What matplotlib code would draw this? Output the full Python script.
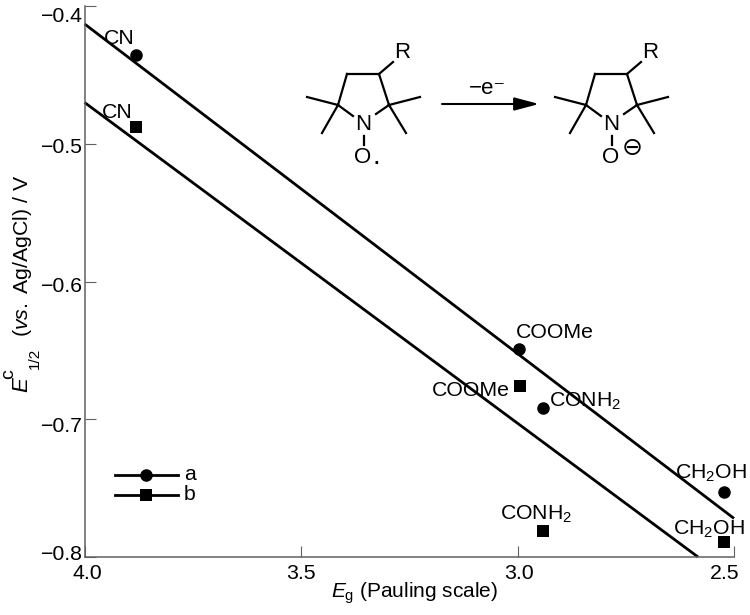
import matplotlib
matplotlib.use("Agg")
import matplotlib.pyplot as plt
from matplotlib.lines import Line2D
from matplotlib.patches import FancyArrowPatch
from matplotlib.transforms import ScaledTranslation

plt.rcParams['font.family'] = ['Liberation Sans', 'DejaVu Sans']
plt.rcParams['mathtext.fontset'] = 'custom'
plt.rcParams['mathtext.rm'] = 'Liberation Sans'
plt.rcParams['mathtext.it'] = 'Liberation Sans:italic'
plt.rcParams['mathtext.default'] = 'regular'

# data
eg_a = [3.882, 2.997, 2.942, 2.523]
e_a = [-0.4356, -0.649, -0.692, -0.753]
eg_b = [3.880, 2.995, 2.942, 2.523]
e_b = [-0.488, -0.676, -0.781, -0.789]
line_a_x = [4.0, 2.5]
line_a_y = [-0.413, -0.772]
line_b_x = [4.0, 2.583]
line_b_y = [-0.47, -0.80]
labels_a = ["CN", "COOMe", "CONH$_2$", "CH$_2$OH"]
labels_b = ["CN", "COOMe", "CONH$_2$", "CH$_2$OH"]
xticks = [4.0, 3.5, 3.0, 2.5]
yticks = [-0.8, -0.7, -0.6, -0.5, -0.4]

W, H = 750, 615
FS = 15.3
fig = plt.figure(figsize=(W/100, H/100), dpi=100)
L, R, T, B = 84.5, 734, 6, 557
ax = fig.add_axes([L/W, 1-B/H, (R-L)/W, (B-T)/H])
ax.set_xlim(4.0, 2.5)
ax.set_ylim(-0.8, -0.4)

ax.plot(line_a_x, line_a_y, color='k', lw=2.0, solid_capstyle='butt', clip_on=False)
ax.plot(line_b_x, line_b_y, color='k', lw=2.0, solid_capstyle='butt', clip_on=False)
ax.plot(eg_a, e_a, 'o', color='k', ms=8.0, ls='none', clip_on=False)
ax.plot(eg_b, e_b, 's', color='k', ms=8.3, mew=0, ls='none', clip_on=False)

for s in ['top', 'right']:
    ax.spines[s].set_visible(False)
for s in ['left', 'bottom']:
    ax.spines[s].set_color('#606060')
    ax.spines[s].set_linewidth(1.1)
ax.set_xticks(xticks)
ax.set_xticklabels([f"{v:.1f}" for v in xticks])
ax.set_yticks(yticks)
ax.set_yticklabels(["\u2212" + f"{abs(v):.1f}" for v in yticks])
ax.tick_params(axis='x', direction='in', length=8, width=0.8, color='#606060', labelsize=FS, pad=5)
ax.tick_params(axis='y', direction='in', length=8, width=0.8, color='#606060', labelsize=FS, pad=1)

# the reference's tick labels sit slightly off their ticks (offsets in px)
for lab, dx in zip(ax.get_xticklabels(), [3, 0, 1, -9]):
    lab.set_transform(lab.get_transform() + ScaledTranslation(dx/100, 0, fig.dpi_scale_trans))
for lab, dy in zip(ax.get_yticklabels(), [4, -5, -3, -2, -8]):
    lab.set_transform(lab.get_transform() + ScaledTranslation(0, dy/100, fig.dpi_scale_trans))


def t(x, y, s, size=FS, **kw):
    fig.text(x/W, 1-y/H, s, fontsize=size, ha=kw.pop('ha', 'center'), va=kw.pop('va', 'center'), **kw)


# axis titles
t(415, 593, "$\\mathit{E}_{\\mathrm{g}}$ (Pauling scale)", size=15)
t(22, 385, "E", size=16, rotation=90, style='italic')
t(9, 374, "c", size=14, rotation=90)
t(35, 358, "1/2", size=11, rotation=90)
t(23, 256, "($\\mathit{vs.}$ Ag/AgCl) / V", rotation=90)

# point labels
t(119, 38, labels_a[0])
t(117, 113, labels_b[0])
t(555, 332, labels_a[1])
t(471, 391, labels_b[1])
t(585, 401, labels_a[2])
t(536, 514, labels_b[2])
t(711, 473, labels_a[3])
t(709, 529, labels_b[3])


def seg(x0, y0, x1, y1, lw=1.6):
    fig.add_artist(Line2D([x0/W, x1/W], [1-y0/H, 1-y1/H], color='k', lw=lw, transform=fig.transFigure))


def molecule(dx):
    seg(347+dx, 74, 379+dx, 74)
    seg(347+dx, 74, 338+dx, 105)
    seg(379+dx, 74, 389+dx, 105)
    seg(379+dx, 74, 393+dx, 62)
    seg(338+dx, 105, 307+dx, 97)
    seg(338+dx, 105, 322+dx, 133)
    seg(389+dx, 105, 420+dx, 97)
    seg(389+dx, 105, 406+dx, 133)
    seg(338+dx, 105, 353+dx, 116)
    seg(389+dx, 105, 376+dx, 114)
    seg(364+dx, 136, 364+dx, 145)
    t(402+dx, 52, "R", size=16)
    t(363+dx, 125, "N", size=16)
    t(363+dx, 157, "O", size=16)


molecule(0)
molecule(248)
t(376, 157, ".", size=20)
t(632, 148, "\u2296", size=18, family=['DejaVu Sans'])
t(487, 89, "\u2212e\u207b", size=16)
fig.add_artist(FancyArrowPatch(
    (442/W, 1-104/H), (539/W, 1-104/H), transform=fig.transFigure,
    arrowstyle='-|>,head_length=0.75,head_width=0.2', mutation_scale=20, color='k', lw=1.5, shrinkA=0, shrinkB=0))

# legend
seg(115, 474.5, 178, 474.5, lw=2)
seg(115, 494.5, 178, 494.5, lw=2)
fig.add_artist(Line2D([146/W], [1-474.5/H], marker='o', ms=8, color='k', transform=fig.transFigure))
fig.add_artist(Line2D([146/W], [1-494.5/H], marker='s', ms=8.5, mew=0, color='k', transform=fig.transFigure))
t(184, 474, "a", ha='left')
t(184, 494, "b", ha='left')

fig.savefig("out.png", dpi=100)
